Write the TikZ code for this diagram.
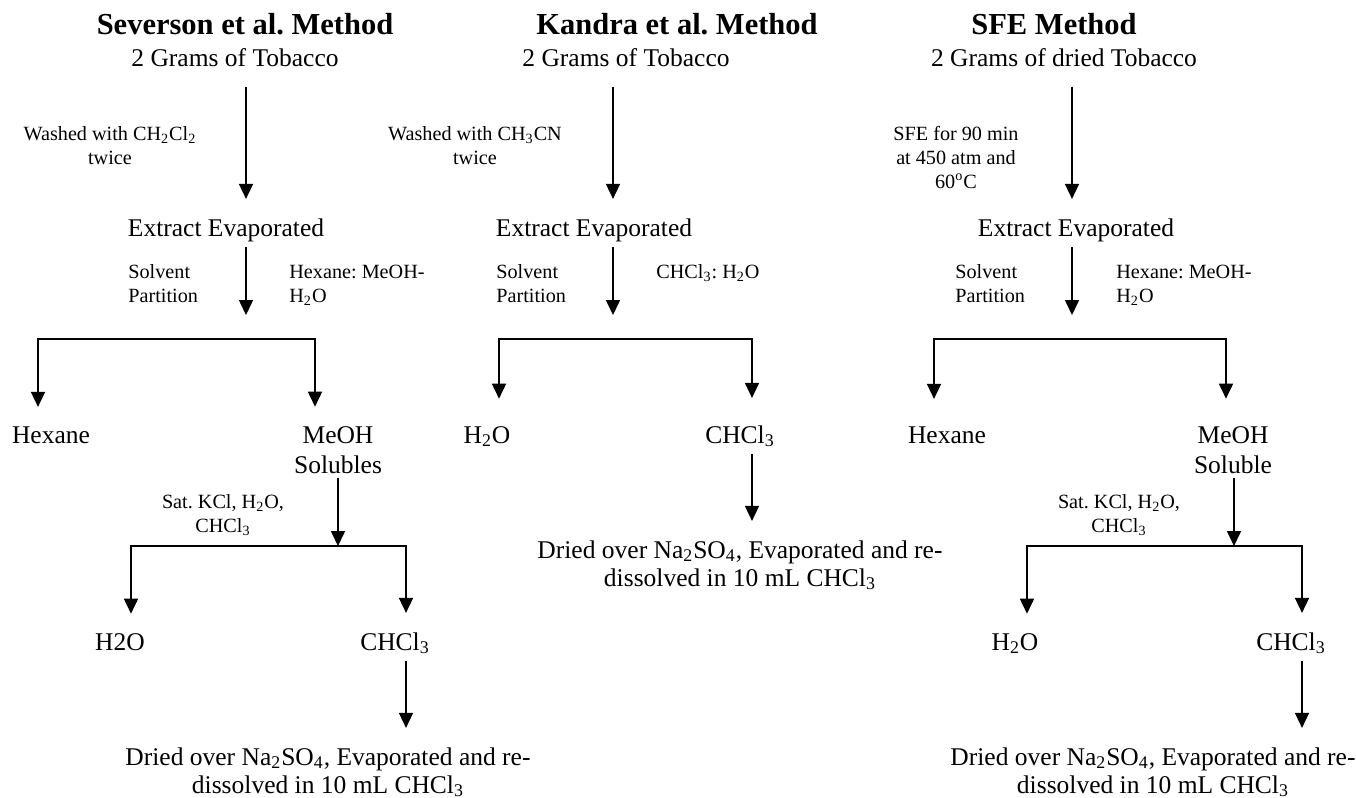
\documentclass[tikz,border=0pt]{standalone}
\usepackage{fontspec}
\setmainfont{Liberation Serif}
\frenchspacing
\usetikzlibrary{arrows.meta}
\tikzset{
  txt/.style={inner sep=0pt, anchor=base, align=center, font=\fontsize{12.75}{15}\selectfont},
  dry/.style={inner sep=0pt, anchor=base, align=center, font=\fontsize{12.75}{14}\selectfont},
  note/.style={inner sep=0pt, anchor=base, align=center, font=\fontsize{10.1}{12}\selectfont},
  head/.style={inner sep=0pt, anchor=base, font=\fontsize{15.25}{18}\selectfont\bfseries},
  flow/.style={line width=0.8pt, -{Triangle[length=7.5pt,width=7pt]}, shorten >=9.5pt},
  fork/.style={line width=0.8pt, {Triangle[length=7.5pt,width=7pt]}-{Triangle[length=7.5pt,width=7pt]}, shorten <=#1, shorten >=#1},
  fork/.default=9.5pt
}
\begin{document}
\begin{tikzpicture}[x=0.5pt, y=-0.5pt]
        \useasboundingbox (0,0) rectangle (1356,798);

        % Severson et al. method (multi-line nodes sit on their last line)
        \node[head] (sevt) at (245,34) {Severson et al. Method};
        \node[txt] (sevg) at (235,66) {2 Grams of Tobacco};
        \node[note] (sevw) at (110,164) {Washed with CH\textsubscript{2}Cl\textsubscript{2}\\twice};
        \node[txt] (sevext) at (226,236) {Extract Evaporated};
        \node[note, anchor=base west, align=left] (sevsp) at (128,302) {Solvent\\Partition};
        \node[note, anchor=base west, align=left] (sevsolv) at (289,302) {Hexane: MeOH-\\H\textsubscript{2}O};
        \node[txt] (sevhex) at (51,443) {Hexane};
        \node[txt] (sevmeoh) at (338,473) {MeOH\\Solubles};
        \node[note] (sevkcl) at (223,532) {Sat. KCl, H\textsubscript{2}O,\\CHCl\textsubscript{3}};
        \node[txt] (sevwat) at (120,650) {H2O};
        \node[txt] (sevchl) at (395,650) {CHCl\textsubscript{3}};
        \node[dry] (sevdry) at (328,793) {Dried over Na\textsubscript{2}SO\textsubscript{4}, Evaporated and re-\\dissolved in 10 mL CHCl\textsubscript{3}};

        \coordinate (sevfork) at (246,339);
        \coordinate (sevL) at (38,339);
        \coordinate (sevR) at (315,339);
        \coordinate (sevfork2) at (338,546);
        \coordinate (sevL2) at (131,546);
        \coordinate (sevR2) at (406,546);

        \draw[flow, shorten <=10pt] (sevg.south -| sevfork) -- (sevext.north -| sevfork);
        \draw[flow, shorten <=2.75pt, shorten >=12pt] (sevext.south -| sevfork) -- (sevfork);
        \draw[fork] (sevhex.north -| sevL) -- (sevL) -- (sevR) -- (sevmeoh.north -| sevR);
        \draw[flow, shorten <=2pt, shorten >=0pt] (sevmeoh.south) -- (sevfork2);
        \draw[fork] (sevwat.north -| sevL2) -- (sevL2) -- (sevR2) -- (sevchl.north -| sevR2);
        \draw[flow, shorten <=3.5pt] (sevchl.south -| sevR2) -- (sevdry.north -| sevR2);

        % Kandra et al. method
        \node[head] (kant) at (677,34) {Kandra et al. Method};
        \node[txt] (kang) at (626,66) {2 Grams of Tobacco};
        \node[note] (kanw) at (475,164) {Washed with CH\textsubscript{3}CN\\twice};
        \node[txt] (kanext) at (594,236) {Extract Evaporated};
        \node[note, anchor=base west, align=left] (kansp) at (496,302) {Solvent\\Partition};
        \node[note, anchor=base west] (kansolv) at (656,278) {CHCl\textsubscript{3}: H\textsubscript{2}O};
        \node[txt] (kanwat) at (487,443) {H\textsubscript{2}O};
        \node[txt] (kanchl) at (740,443) {CHCl\textsubscript{3}};
        \node[dry] (kandry) at (740,586) {Dried over Na\textsubscript{2}SO\textsubscript{4}, Evaporated and re-\\dissolved in 10 mL CHCl\textsubscript{3}};

        \coordinate (kanfork) at (613,339);
        \coordinate (kanL) at (499,339);
        \coordinate (kanR) at (752,339);

        \draw[flow, shorten <=10pt] (kang.south -| kanfork) -- (kanext.north -| kanfork);
        \draw[flow, shorten <=2.75pt, shorten >=12pt] (kanext.south -| kanfork) -- (kanfork);
        \draw[fork=13.5pt] (kanwat.north -| kanL) -- (kanL) -- (kanR) -- (kanchl.north -| kanR);
        \draw[flow, shorten <=3.5pt] (kanchl.south -| kanR) -- (kandry.north -| kanR);

        % SFE method
        \node[head] (sfet) at (1054,34) {SFE Method};
        \node[txt] (sfeg) at (1064,66) {2 Grams of dried Tobacco};
        \node[note] (sfew) at (956,188) {SFE for 90 min\\at 450 atm and\\60\textsuperscript{o}C};
        \node[txt] (sfeext) at (1076,236) {Extract Evaporated};
        \node[note, anchor=base west, align=left] (sfesp) at (955,302) {Solvent\\Partition};
        \node[note, anchor=base west, align=left] (sfesolv) at (1116,302) {Hexane: MeOH-\\H\textsubscript{2}O};
        \node[txt] (sfehex) at (947,443) {Hexane};
        \node[txt] (sfemeoh) at (1233,473) {MeOH\\Soluble};
        \node[note] (sfekcl) at (1119,532) {Sat. KCl, H\textsubscript{2}O,\\CHCl\textsubscript{3}};
        \node[txt] (sfewat) at (1015,650) {H\textsubscript{2}O};
        \node[txt] (sfechl) at (1291,650) {CHCl\textsubscript{3}};
        \node[dry] (sfedry) at (1153,793) {Dried over Na\textsubscript{2}SO\textsubscript{4}, Evaporated and re-\\dissolved in 10 mL CHCl\textsubscript{3}};

        \coordinate (sfefork) at (1072,339);
        \coordinate (sfeL) at (934,339);
        \coordinate (sfeR) at (1226,339);
        \coordinate (sfefork2) at (1234,546);
        \coordinate (sfeL2) at (1027,546);
        \coordinate (sfeR2) at (1302,546);

        \draw[flow, shorten <=10pt] (sfeg.south -| sfefork) -- (sfeext.north -| sfefork);
        \draw[flow, shorten <=2.75pt, shorten >=12pt] (sfeext.south -| sfefork) -- (sfefork);
        \draw[fork=13.5pt] (sfehex.north -| sfeL) -- (sfeL) -- (sfeR) -- (sfemeoh.north -| sfeR);
        \draw[flow, shorten <=2pt, shorten >=0pt] (sfemeoh.south -| sfefork2) -- (sfefork2);
        \draw[fork] (sfewat.north -| sfeL2) -- (sfeL2) -- (sfeR2) -- (sfechl.north -| sfeR2);
        \draw[flow, shorten <=3.5pt] (sfechl.south -| sfeR2) -- (sfedry.north -| sfeR2);
    \end{tikzpicture}
\end{document}
